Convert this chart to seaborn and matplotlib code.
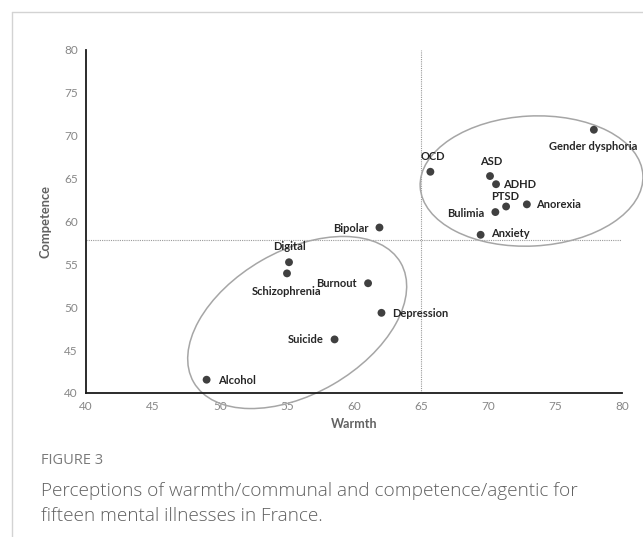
import matplotlib
matplotlib.use("Agg")
import matplotlib.pyplot as plt
import seaborn as sns
import pandas as pd
from matplotlib.patches import Ellipse
from matplotlib.transforms import Affine2D
from matplotlib.lines import Line2D

# data
illnesses = ["Gender dysphoria", "OCD", "ASD", "ADHD", "PTSD", "Anorexia", "Bulimia",
             "Anxiety", "Bipolar", "Digital", "Schizophrenia", "Burnout", "Depression",
             "Suicide", "Alcohol"]
warmth = [77.9, 65.7, 70.15, 70.6, 71.35, 72.9, 70.55, 69.45, 61.9, 55.15, 55.0,
          61.05, 62.05, 58.55, 49.0]
competence = [70.7, 65.8, 65.3, 64.35, 61.75, 62.0, 61.1, 58.45, 59.3, 55.25, 53.95,
              52.8, 49.35, 46.25, 41.55]
x_ticks = [40, 45, 50, 55, 60, 65, 70, 75, 80]
y_ticks = [40, 45, 50, 55, 60, 65, 70, 75, 80]
warmth_mid = 65
competence_mid = 57.9

# label offsets (pixels) and alignment
label_pos = {
    "Gender dysphoria": (-1, -17, "center"), "OCD": (2, 15, "center"),
    "ASD": (1, 15, "center"), "ADHD": (7, 0, "left"), "PTSD": (-1, 9.5, "center"),
    "Anorexia": (9, 0, "left"), "Bulimia": (-11, -1, "right"),
    "Anxiety": (10, 1, "left"), "Bipolar": (-11, -1, "right"),
    "Digital": (0, 16, "center"), "Schizophrenia": (0, -18, "center"),
    "Burnout": (-11, 0, "right"), "Depression": (10.5, -1, "left"),
    "Suicide": (-11, 0, "right"), "Alcohol": (11, -1, "left"),
}

df = pd.DataFrame({"illness": illnesses, "Warmth": warmth, "Competence": competence})

sns.set_theme(style="white")
plt.rcParams["font.family"] = ["Lato", "DejaVu Sans"]

fig = plt.figure(figsize=(6.43, 5.37), dpi=100)
ax = fig.add_axes([86 / 643, 1 - 393 / 537, 536 / 643, 343 / 537])

ax.axvline(warmth_mid, color="#9a9a9a", lw=0.8, ls=(0, (1, 1)), zorder=1)
ax.axhline(competence_mid, color="#9a9a9a", lw=0.8, ls=(0, (1, 1)), zorder=1)

sns.scatterplot(data=df, x="Warmth", y="Competence", color="#404040", s=32,
                edgecolor="none", ax=ax, zorder=3)

for name, xv, yv in zip(illnesses, warmth, competence):
    dx, dy, ha = label_pos[name]
    ax.annotate(name, (xv, yv), xytext=(dx * 0.72, dy * 0.72), textcoords="offset points",
                ha=ha, va="center", fontsize=8, fontweight="bold", color="#262626")

ax.set_xlim(40, 80)
ax.set_ylim(40, 80)
ax.set_xticks(x_ticks)
ax.set_yticks(y_ticks)
ax.tick_params(axis="both", length=0, labelsize=8.5, labelcolor="#878787", pad=6)
ax.set_xlabel("Warmth", fontsize=9, fontweight="bold", color="#626262", labelpad=4)
ax.set_ylabel("Competence", fontsize=9.3, fontweight="bold", color="#626262", labelpad=9)
for side in ["top", "right"]:
    ax.spines[side].set_visible(False)
for side in ["left", "bottom"]:
    ax.spines[side].set_color("#1a1a1a")
    ax.spines[side].set_linewidth(1.3)

# ellipses drawn in screen pixels, positioned in data units
px_x = 536 / 40
px_y = 343 / 40
for cx, cy, w, h, ang in [(55.76, 48.22, 239, 143, 30), (73.25, 64.72, 223, 130, 3)]:
    tr = Affine2D().scale(1 / px_x, 1 / px_y).translate(cx, cy) + ax.transData
    e = Ellipse((0, 0), w, h, angle=ang, fill=False, edgecolor="#a6a6a6", lw=1.1,
                transform=tr, clip_on=False, zorder=2)
    ax.add_patch(e)

# card border and caption
fig.add_artist(Line2D([12 / 643, 1], [1 - 12 / 537, 1 - 12 / 537], color="#d3d3d3", lw=1))
fig.add_artist(Line2D([12 / 643, 12 / 643], [0, 1 - 12 / 537], color="#d3d3d3", lw=1))
fig.text(41 / 643, 1 - 460 / 537, "FIGURE 3", fontsize=10.5, color="#7a7a7a",
         family=["Open Sans", "DejaVu Sans"], va="center")
fig.text(41 / 643, 1 - 503.5 / 537,
         "Perceptions of warmth/communal and competence/agentic for\nfifteen mental illnesses in France.",
         fontsize=13.7, color="#606060", family=["Open Sans", "DejaVu Sans"], va="center",
         linespacing=1.5, fontweight="light")

fig.savefig("out.png", dpi=100)
